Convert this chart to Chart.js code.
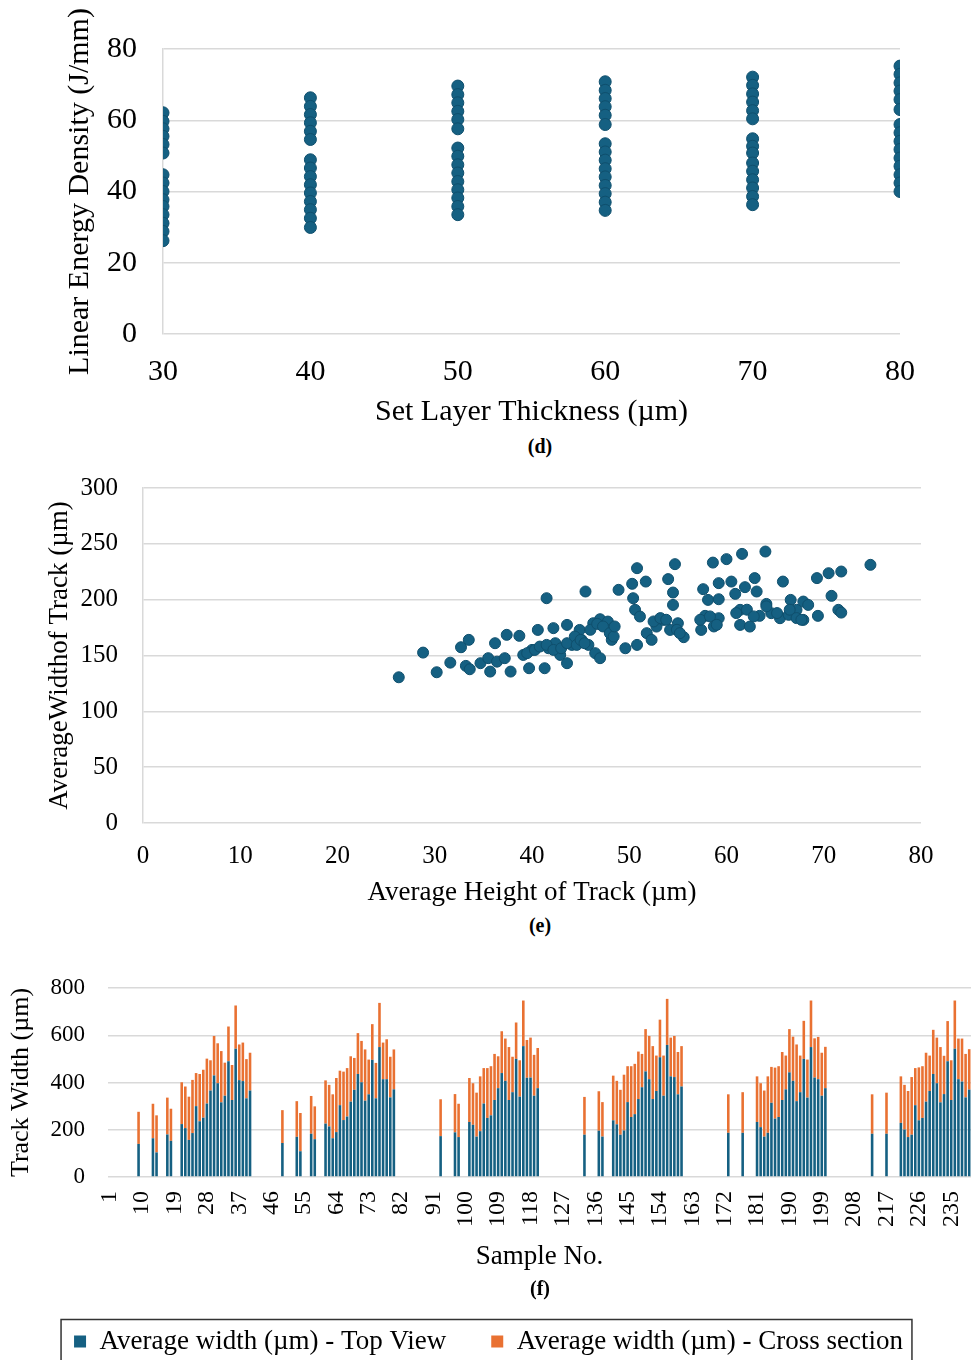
<!DOCTYPE html>
<html>
<head>
<meta charset="utf-8">
<script src="https://cdn.jsdelivr.net/npm/chart.js@4.4.0/dist/chart.umd.min.js"></script>
<style>
  html, body { margin: 0; padding: 0; background: #fff; overflow: hidden; }
  #page { position: relative; width: 972px; height: 1360px; overflow: hidden; }
  canvas { position: absolute; left: 0; }
  .cap { position: absolute; left: 440px; width: 200px; text-align: center;
         font: bold 20px "Liberation Serif", serif; color: #000; line-height: 24px; }
</style>
</head>
<body>
<div id="page">
  <canvas id="chartD" width="972" height="432" style="top:0px"></canvas>
  <canvas id="chartE" width="972" height="449" style="top:460px"></canvas>
  <canvas id="chartF" width="972" height="405" style="top:960px"></canvas>
  <div class="cap" style="top:434px">(d)</div>
  <div class="cap" style="top:913px">(e)</div>
  <div class="cap" style="top:1276px">(f)</div>
</div>
<script>
// (d) linear energy density for each set layer thickness
const thickness = [30, 40, 50, 60, 70, 80];
const led30 = [62.1, 59.7, 57.6, 55.5, 53.2, 50.8, 44.7, 42.4, 40.0, 37.7, 35.8, 33.5, 31.1, 28.8, 26.2];
const led40 = [66.3, 63.9, 61.6, 59.3, 56.9, 54.6, 48.9, 46.6, 44.2, 41.9, 39.6, 37.2, 34.9, 32.5, 29.9];
const led50 = [69.6, 67.2, 64.9, 62.5, 60.2, 57.6, 52.2, 49.9, 47.5, 45.2, 42.8, 40.5, 38.2, 35.8, 33.5];
const led60 = [70.8, 68.4, 66.1, 63.8, 61.4, 58.8, 53.4, 51.1, 48.8, 46.4, 44.1, 41.7, 39.4, 37.0, 34.7];
const led70 = [72.1, 69.8, 67.4, 65.1, 62.7, 60.4, 54.8, 52.7, 50.8, 48.0, 45.7, 43.3, 41.0, 38.6, 36.3];
const led80 = [75.2, 72.9, 70.5, 68.2, 65.8, 63.0, 58.8, 56.5, 54.1, 51.8, 49.4, 47.1, 44.7, 42.4, 40.0];

// (e) average height vs average width of track
const trackHeight = [
  26.3, 28.8, 30.2, 31.6, 32.7, 33.5, 33.2, 33.6, 34.7, 35.5,
  35.7, 36.2, 36.4, 37.2, 37.4, 37.8, 38.7, 39.1, 39.7, 40.0,
  40.6, 41.3, 41.5, 41.7, 42.2, 42.4, 42.9, 43.6, 43.6, 44.1,
  44.9, 45.1, 45.5, 45.8, 46.3, 46.5, 47.0, 47.0, 47.8, 48.0,
  48.2, 48.9, 49.6, 50.3, 50.4, 50.6, 50.8, 50.8, 51.1, 51.7,
  51.8, 52.3, 52.8, 53.5, 54.0, 54.2, 54.5, 54.5, 54.7, 55.0,
  55.6, 57.4, 57.6, 57.8, 58.1, 58.6, 59.2, 59.2, 59.2, 60.0,
  60.5, 60.9, 61.4, 61.4, 61.6, 61.9, 62.4, 62.9, 63.1, 63.4,
  64.0, 64.1, 64.6, 65.5, 65.8, 66.4, 66.6, 67.2, 67.9, 67.9,
  68.4, 69.3, 69.4, 70.5, 70.8, 71.5, 71.8, 71.8, 74.8,
  39.5, 40.3, 40.8, 41.5, 42.2, 43.0, 43.6, 44.4, 44.6, 45.0,
  45.4, 46.0, 46.7, 47.3, 48.0, 48.4, 48.5, 52.5, 53.2, 53.8,
  54.9, 55.2, 57.3, 58.3, 58.7, 59.0, 61.0, 62.1, 62.8, 64.1,
  65.2, 66.5, 67.2, 67.7
];
const trackWidth = [
  130.5, 152.6, 135.0, 143.6, 157.4, 164.0, 140.7, 137.7, 143.1, 147.6,
  135.6, 161.0, 144.5, 147.6, 168.5, 135.6, 167.6, 150.5, 138.6, 155.0,
  172.9, 138.6, 201.3, 156.5, 174.5, 161.0, 150.5, 177.4, 143.1, 159.5,
  172.9, 164.0, 207.3, 159.5, 178.9, 152.1, 182.5, 147.6, 180.4, 172.9,
  164.0, 208.8, 156.5, 214.2, 201.3, 190.9, 228.2, 159.5, 184.9, 216.2,
  170.0, 164.0, 175.9, 181.9, 218.4, 172.9, 206.4, 195.3, 231.8, 178.9,
  166.4, 172.9, 209.4, 185.5, 199.8, 233.2, 214.8, 200.4, 183.4, 236.3,
  216.2, 205.2, 190.9, 177.4, 241.0, 211.2, 175.9, 219.3, 207.3, 185.5,
  243.1, 196.2, 187.9, 183.4, 216.2, 186.4, 199.8, 190.9, 198.3, 181.9,
  195.3, 219.3, 185.5, 223.7, 203.4, 190.9, 225.2, 188.4, 231.2,
  152.1, 155.0, 158.0, 159.5, 155.0, 156.5, 161.0, 167.0, 159.5, 164.0,
  161.0, 173.0, 178.3, 176.0, 170.0, 167.0, 176.0, 180.5, 183.5, 182.0,
  173.0, 170.0, 182.0, 185.0, 176.0, 177.5, 188.0, 191.0, 185.0, 194.0,
  188.0, 191.0, 183.5, 182.0
];

// (f) track width per sample (only measured samples)
const sampleCount = 240;
const sampleNo = [
  9, 13, 14, 17, 18, 21, 22, 23, 24, 25, 26, 27, 28, 29, 30, 31, 32, 33, 34, 35, 36, 37, 38, 39, 40,
  49, 53, 54, 57, 58, 61, 62, 63, 64, 65, 66, 67, 68, 69, 70, 71, 72, 73, 74, 75, 76, 77, 78, 79, 80,
  93, 97, 98, 101, 102, 103, 104, 105, 106, 107, 108, 109, 110, 111, 112, 113, 114, 115, 116, 117, 118, 119, 120,
  133, 137, 138, 141, 142, 143, 144, 145, 146, 147, 148, 149, 150, 151, 152, 153, 154, 155, 156, 157, 158, 159, 160,
  173, 177, 181, 182, 183, 184, 185, 186, 187, 188, 189, 190, 191, 192, 193, 194, 195, 196, 197, 198, 199, 200,
  213, 217, 221, 222, 223, 224, 225, 226, 227, 228, 229, 230, 231, 232, 233, 234, 235, 236, 237, 238, 239, 240
];
const topView = [
  140, 164, 104, 180, 153, 224, 207, 157, 186, 300, 236, 251, 311, 366, 430, 397, 316, 344, 490, 326, 543, 410, 406, 333, 366,
  144, 170, 109, 183, 160, 226, 214, 164, 190, 304, 241, 256, 319, 369, 436, 401, 323, 350, 496, 333, 550, 414, 414, 337, 371,
  173, 189, 169, 233, 221, 171, 194, 311, 250, 261, 326, 376, 440, 407, 326, 359, 500, 340, 554, 420, 421, 344, 376,
  179, 196, 171, 240, 223, 179, 197, 317, 254, 266, 330, 380, 447, 414, 330, 364, 507, 344, 559, 426, 423, 350, 383,
  187, 187, 233, 211, 171, 187, 314, 247, 254, 326, 371, 443, 407, 321, 359, 500, 336, 550, 421, 414, 344, 376,
  183, 183, 229, 201, 169, 179, 304, 240, 250, 319, 364, 436, 397, 316, 351, 490, 326, 543, 414, 404, 337, 370
];
const crossSection = [
  136, 146, 157, 156, 136, 177, 176, 183, 225, 140, 200, 203, 190, 128, 167, 169, 217, 140, 147, 148, 183, 151, 163, 166, 160,
  139, 151, 162, 160, 139, 183, 176, 186, 229, 146, 205, 205, 192, 135, 173, 175, 217, 147, 151, 150, 187, 155, 169, 172, 169,
  156, 162, 141, 186, 176, 186, 232, 150, 211, 208, 195, 135, 177, 179, 224, 150, 154, 154, 193, 160, 169, 173, 170,
  160, 167, 146, 189, 184, 190, 236, 152, 215, 213, 201, 141, 179, 183, 224, 150, 159, 170, 195, 164, 174, 179, 171,
  163, 172, 193, 186, 195, 239, 152, 216, 215, 203, 143, 183, 187, 240, 155, 161, 161, 197, 166, 179, 182, 175,
  167, 174, 197, 189, 195, 244, 157, 224, 219, 207, 150, 187, 193, 234, 162, 170, 168, 204, 172, 182, 184, 171
];

const blue = '#156082';
const orange = '#E97132';
const gridGray = '#d9d9d9';

Chart.defaults.font.family = '"Liberation Serif", "Times New Roman", serif';
Chart.defaults.color = '#000';
Chart.defaults.animation = false;

// fixed axis boxes so the plot areas sit where the figure has them
const fixWidth = (w) => (s) => { s.width = w; s.paddingTop = 0; s.paddingBottom = 0; };
const fixHeight = (h) => (s) => { s.height = h; s.paddingLeft = 0; s.paddingRight = 0; };

// ---------- (d) ----------
const ledSets = [led30, led40, led50, led60, led70, led80];
const pointsD = [];
thickness.forEach((t, i) => ledSets[i].forEach(v => pointsD.push({x: t, y: v})));

new Chart(document.getElementById('chartD'), {
  type: 'scatter',
  data: {
    datasets: [{
      data: pointsD,
      backgroundColor: blue,
      borderColor: '#0f4f6d',
      borderWidth: 1,
      pointRadius: 6,
    }]
  },
  options: {
    responsive: false,
    layout: { padding: { left: 62, right: 72, top: 49, bottom: 0 } },
    plugins: { legend: { display: false }, tooltip: { enabled: false } },
    scales: {
      x: {
        type: 'linear', min: 30, max: 80,
        afterFit: fixHeight(98),
        ticks: { stepSize: 10, font: { size: 30 }, padding: 12 },
        grid: { display: false },
        border: { display: false },
        title: { display: true, text: 'Set Layer Thickness (µm)', font: { size: 30 }, padding: { top: 0, bottom: 2 } }
      },
      y: {
        min: 0, max: 80,
        afterFit: fixWidth(101),
        ticks: { stepSize: 20, font: { size: 30 }, padding: 26 },
        grid: { color: gridGray, lineWidth: 1.5, drawTicks: false },
        border: { display: true, color: gridGray, width: 1.5 },
        title: { display: true, text: 'Linear Energy Density (J/mm)', font: { size: 30 }, padding: { top: 0, bottom: 0 } }
      }
    }
  }
});

// ---------- (e) ----------
const pointsE = trackHeight.map((h, i) => ({x: h, y: trackWidth[i]}));

new Chart(document.getElementById('chartE'), {
  type: 'scatter',
  data: {
    datasets: [{
      data: pointsE,
      backgroundColor: blue,
      borderColor: '#0f4f6d',
      borderWidth: 1,
      pointRadius: 5.5,
    }]
  },
  options: {
    responsive: false,
    layout: { padding: { left: 44, right: 51, top: 28, bottom: 0 } },
    plugins: { legend: { display: false }, tooltip: { enabled: false } },
    scales: {
      x: {
        type: 'linear', min: 0, max: 80,
        afterFit: fixHeight(86),
        ticks: { stepSize: 10, font: { size: 25 }, padding: 10 },
        grid: { display: false },
        border: { display: false },
        title: { display: true, text: 'Average Height of Track (µm)', font: { size: 27 }, padding: { top: 0, bottom: 0 } }
      },
      y: {
        min: 0, max: 300,
        afterFit: fixWidth(99),
        ticks: { stepSize: 50, font: { size: 25 }, padding: 25 },
        grid: { color: gridGray, lineWidth: 1.5, drawTicks: false },
        border: { display: true, color: gridGray, width: 1.5 },
        title: { display: true, text: 'AverageWidthof Track (µm)', font: { size: 27 }, padding: { top: 0, bottom: 0 } }
      }
    }
  }
});

// ---------- (f) ----------
const sampleLabels = [];
for (let i = 1; i <= sampleCount; i++) sampleLabels.push(String(i));
const topData = new Array(sampleCount).fill(null);
const crossData = new Array(sampleCount).fill(null);
sampleNo.forEach((s, i) => {
  topData[s - 1] = topView[i];
  crossData[s - 1] = crossSection[i];
});

// thin frame round the legend, as in the figure
const legendFrame = {
  id: 'legendFrame',
  afterDraw(chart) {
    const boxes = chart.legend && chart.legend.legendHitBoxes;
    if (!boxes || !boxes.length) return;
    const ctx = chart.ctx;
    const l = Math.min(...boxes.map(b => b.left)) - 13;
    const r = Math.max(...boxes.map(b => b.left + b.width)) + 9;
    const t = boxes[0].top + boxes[0].height / 2 - 22;
    ctx.save();
    ctx.strokeStyle = '#333';
    ctx.lineWidth = 1.5;
    ctx.strokeRect(l, t, r - l, 60);
    ctx.restore();
  }
};

new Chart(document.getElementById('chartF'), {
  type: 'bar',
  data: {
    labels: sampleLabels,
    datasets: [
      {
        label: 'Average width (µm) - Top View',
        data: topData,
        backgroundColor: blue,
        barPercentage: 0.72,
        categoryPercentage: 1
      },
      {
        label: 'Average width (µm) - Cross section',
        data: crossData,
        backgroundColor: orange,
        barPercentage: 0.72,
        categoryPercentage: 1
      }
    ]
  },
  options: {
    responsive: false,
    layout: { padding: { left: 6, right: 1, top: 28, bottom: 0 } },
    plugins: {
      tooltip: { enabled: false },
      legend: {
        position: 'bottom',
        labels: { font: { size: 27 }, boxWidth: 12, boxHeight: 12, padding: 45, color: '#000' }
      }
    },
    scales: {
      x: {
        stacked: true,
        afterFit: fixHeight(106),
        ticks: {
          autoSkip: false, minRotation: 90, maxRotation: 90, padding: 6,
          font: { size: 24 },
          callback: function (val, i) { return i % 9 === 0 ? this.getLabelForValue(val) : ''; }
        },
        grid: { display: false },
        border: { display: false },
        title: { display: true, text: 'Sample No.', font: { size: 27 }, padding: { top: 0, bottom: 10 } }
      },
      y: {
        stacked: true, min: 0, max: 800,
        afterFit: fixWidth(102),
        ticks: { stepSize: 200, font: { size: 23 }, padding: 23 },
        grid: { color: gridGray, lineWidth: 1.5, drawTicks: false },
        border: { display: false },
        title: { display: true, text: 'Track Width (µm)', font: { size: 26 }, padding: { top: 0, bottom: 0 } }
      }
    }
  },
  plugins: [legendFrame]
});
</script>
</body>
</html>
